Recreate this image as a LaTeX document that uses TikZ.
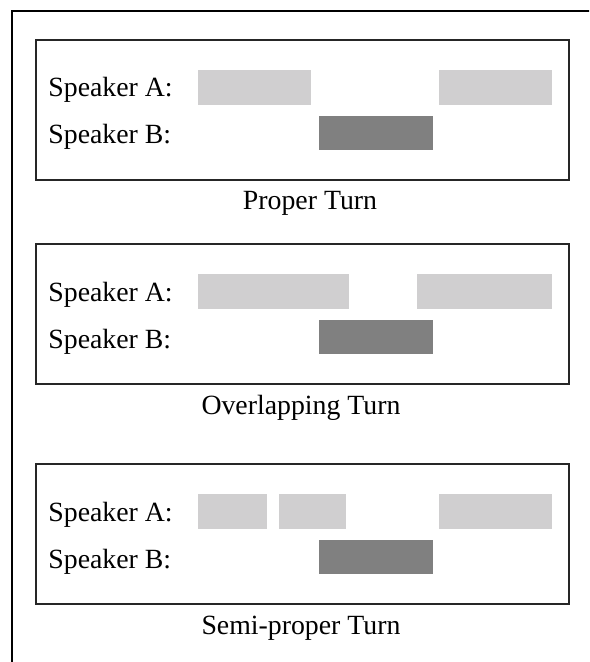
\documentclass[tikz,border=0pt]{standalone}
\usepackage{fontspec}
\setmainfont{Liberation Serif}
\usepackage{tikz}

\definecolor{lightbar}{RGB}{208,207,208}
\definecolor{darkbar}{RGB}{128,128,128}

\begin{document}
\begin{tikzpicture}[x=0.5pt, y=-0.5pt, font=\fontsize{13.9}{16}\selectfont,
		panel/.style={draw=black!85, line width=0.75pt},
		speakerA/.style={fill=lightbar},
		speakerB/.style={fill=darkbar},
		spk/.style={anchor=base west, inner sep=0pt}]
			% Frame
			\useasboundingbox (0,0) rectangle (589,662);
			\clip (0,0) rectangle (589,662);
			\draw[line width=1.3pt] (12,11) rectangle (640,720);
			% Panels
			\foreach \t/\cap/\cx/\bars [count=\n] in {40/Proper Turn/310/{198/311,439/552},
					244/Overlapping Turn/301/{198/349,417/552},
					464/Semi-proper Turn/301/{198/267,279/346,439/552}} {
				\draw[panel] (36,\t) rectangle (569,\t+140);
				\node[spk] (spkA\n) at (48,\t+57) {Speaker A:};
				\node[spk] (spkB\n) at (48,\t+104) {Speaker B:};
				\foreach \xa/\xb in \bars {
					\fill[speakerA] (\xa,\t+30) rectangle (\xb,\t+65);
				}
				\fill[speakerB] (319,\t+76) rectangle (433,\t+110);
				\node[anchor=base, inner sep=0pt] (turn\n) at (\cx,\t+170) {\cap};
			}
		\end{tikzpicture}
\end{document}
